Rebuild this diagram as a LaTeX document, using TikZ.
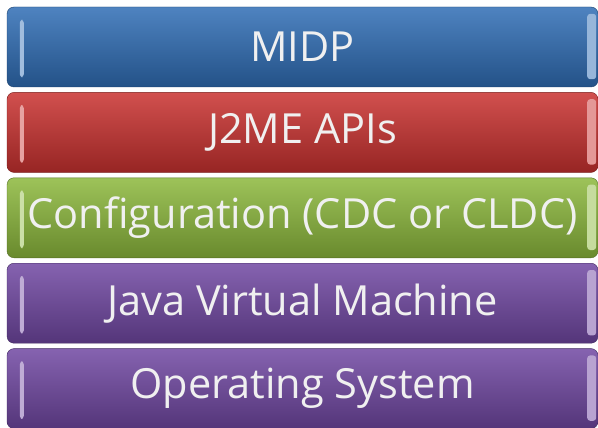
\documentclass[tikz,border=0pt]{standalone}
\usepackage{fontspec}
\setmainfont{Open Sans}
\usepackage{xcolor}
\usepackage{tikz}
\usetikzlibrary{positioning,calc}
\definecolor{midpblue}{HTML}{2F6DB5}
\definecolor{apired}{HTML}{C9312F}
\definecolor{cfggreen}{HTML}{8CB83C}
\definecolor{vmpurple}{HTML}{7047A2}
\tikzstyle{layer}=[rounded corners=7pt, minimum width=591pt, minimum height=80pt, inner sep=0pt, text=white!94!black, font=\fontsize{41.5}{48}\selectfont]
\tikzstyle{gloss}=[rounded corners=3pt]

\begin{document}
\begin{tikzpicture}[x=1pt, y=1pt]
        \useasboundingbox (0,0) rectangle (598,-428);
        \node[style=layer, top color=midpblue!85!white, bottom color=midpblue!75!black, draw=midpblue!60!black] (midp) at (302.5,-47) {MIDP};
        \node[style=layer, top color=apired!85!white, bottom color=apired!75!black, draw=apired!60!black, below=5pt of midp] (apis) {J2ME APIs};
        \node[style=layer, top color=cfggreen!85!white, bottom color=cfggreen!75!black, draw=cfggreen!60!black, below=5pt of apis] (config) {Configuration (CDC or CLDC)};
        \node[style=layer, top color=vmpurple!85!white, bottom color=vmpurple!75!black, draw=vmpurple!60!black, below=5pt of config] (jvm) {Java Virtual Machine};
        \node[style=layer, top color=vmpurple!85!white, bottom color=vmpurple!75!black, draw=vmpurple!60!black, below=5pt of jvm] (os) {Operating System};
        % light edges on each layer
        \foreach \n/\c in {midp/midpblue, apis/apired, config/cfggreen, jvm/vmpurple, os/vmpurple} {
            \fill[style=gloss, \c!45!white] ($(\n.north west)+(13,-13)$) rectangle ($(\n.south west)+(17,10)$);
            \fill[style=gloss, \c!50!white] ($(\n.north east)+(-11,-7)$) rectangle ($(\n.south east)+(-2,8)$);
        }
    \end{tikzpicture}
\end{document}
